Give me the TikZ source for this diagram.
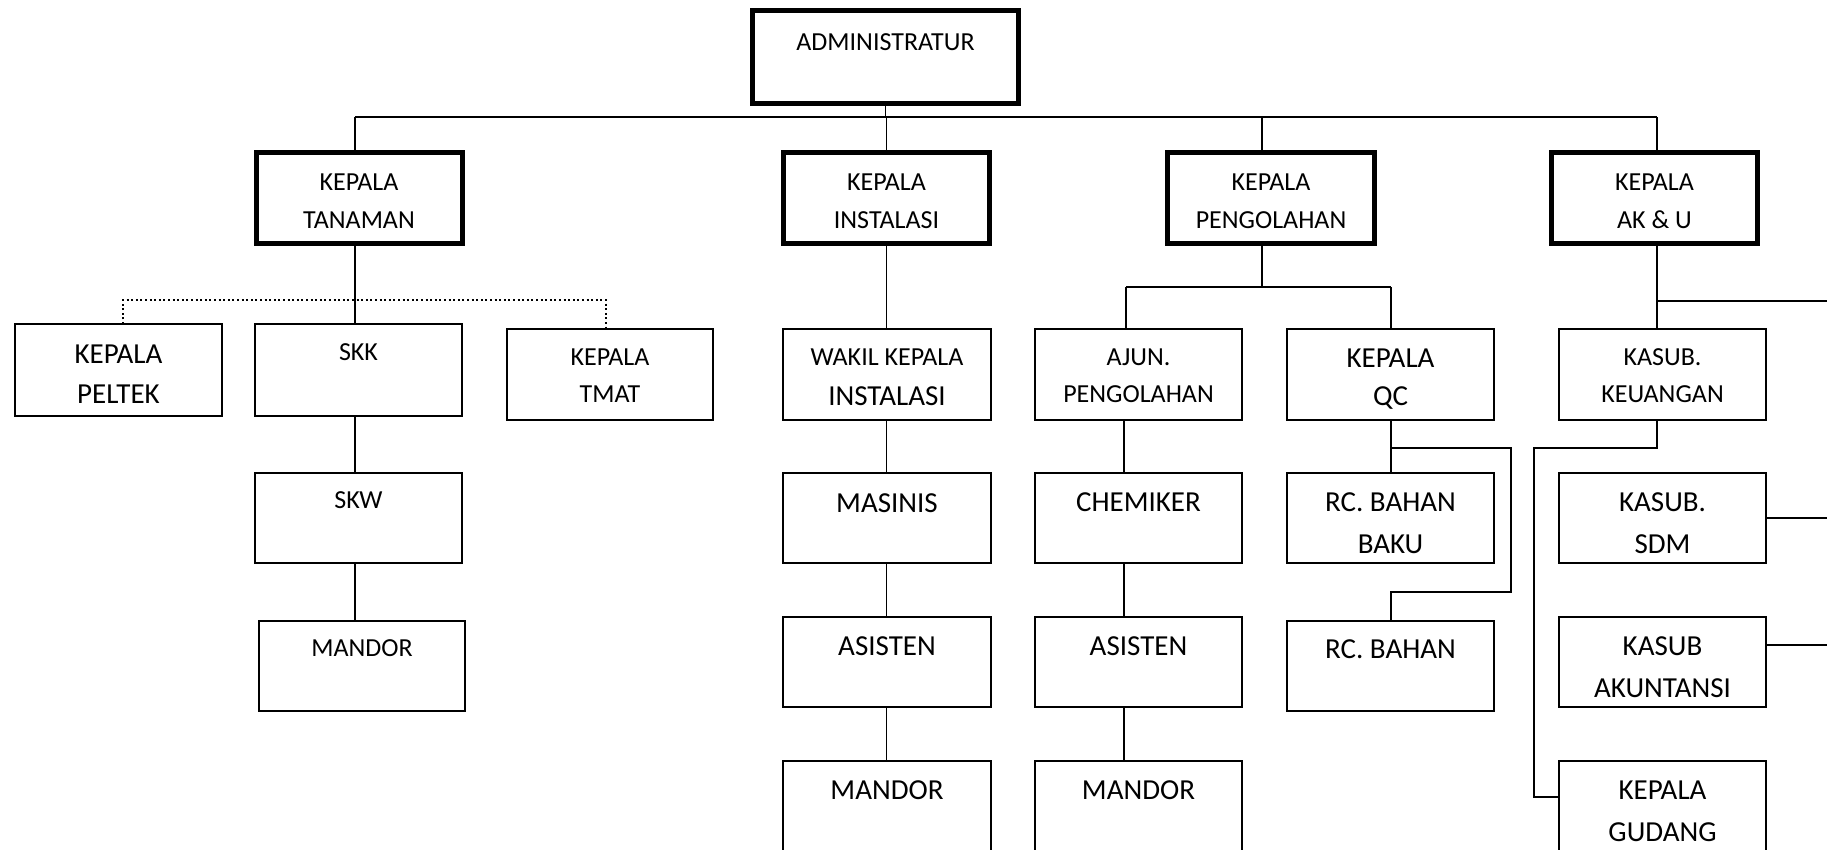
\documentclass[tikz,border=0pt]{standalone}
\usepackage{fontspec}
\setmainfont{Carlito}
\tikzset{
  thinbox/.style={draw, line width=2.5pt, inner sep=0pt, outer sep=0pt, minimum width=207pt, minimum height=91pt},
  thickbox/.style={draw, line width=5pt, inner sep=0pt, outer sep=0pt, minimum width=206pt, minimum height=91pt},
  sm/.style={anchor=base, inner sep=0pt, font=\fontsize{26}{26}\selectfont},
  lg/.style={anchor=base, inner sep=0pt, font=\fontsize{29}{29}\selectfont},
  conn/.style={line width=1.6pt},
  dotline/.style={line width=2pt, dash pattern=on 2pt off 2.6pt}
}
\begin{document}
\begin{tikzpicture}[x=1pt,y=-1pt]
\useasboundingbox (0,0) rectangle (1827,849);
\clip (0,0) rectangle (1827,849);
% thick boxes
\node[thickbox, minimum width=266pt, minimum height=93pt] (adm) at (885.5,57) {};
\node[thickbox] (tan) at (359,198) {};
\node[thickbox] (ins) at (886.5,198) {};
\node[thickbox, minimum width=207pt] (peng) at (1271,198) {};
\node[thickbox] (aku) at (1654.5,198) {};
% row 2
\node[thinbox, minimum height=92pt] (pel) at (118.5,370) {};
\node[thinbox, minimum height=92pt] (skk) at (358.5,370) {};
\node[thinbox, minimum width=206pt] (tmat) at (610,374.5) {};
\node[thinbox, minimum width=208pt] (wak) at (887,374.5) {};
\node[thinbox] (ajun) at (1138.5,374.5) {};
\node[thinbox] (qc) at (1390.5,374.5) {};
\node[thinbox] (keu) at (1662.5,374.5) {};
% row 3
\node[thinbox, minimum height=90pt] (skw) at (358.5,518) {};
\node[thinbox, minimum width=208pt, minimum height=90pt] (mas) at (887,518) {};
\node[thinbox, minimum height=90pt] (chem) at (1138.5,518) {};
\node[thinbox, minimum height=90pt] (rcbb) at (1390.5,518) {};
\node[thinbox, minimum height=90pt] (sdm) at (1662.5,518) {};
% row 4
\node[thinbox, minimum width=206pt, minimum height=90pt] (man1) at (362,666) {};
\node[thinbox, minimum width=208pt, minimum height=90pt] (asi1) at (887,662) {};
\node[thinbox, minimum height=90pt] (asi2) at (1138.5,662) {};
\node[thinbox, minimum height=90pt] (rcb) at (1390.5,666) {};
\node[thinbox, minimum height=90pt] (akun) at (1662.5,662) {};
% row 5
\node[thinbox, minimum width=208pt, minimum height=100pt] (man2) at (887,811) {};
\node[thinbox, minimum height=100pt] (man3) at (1138.5,811) {};
\node[thinbox, minimum height=100pt] (gud) at (1662.5,811) {};
% texts
\node[sm] (t-adm) at (885.5,50) {ADMINISTRATUR};
\node[sm] (t-tan1) at (359,190) {KEPALA};
\node[sm] (t-tan2) at (359,228) {TANAMAN};
\node[sm] (t-ins1) at (886.5,190) {KEPALA};
\node[sm] (t-ins2) at (886.5,228) {INSTALASI};
\node[sm] (t-peng1) at (1271,190) {KEPALA};
\node[sm] (t-peng2) at (1271,228) {PENGOLAHAN};
\node[sm] (t-aku1) at (1654.5,190) {KEPALA};
\node[sm] (t-aku2) at (1654.5,228) {AK \& U};
\node[lg] (t-pel1) at (118.5,363) {KEPALA};
\node[lg] (t-pel2) at (118.5,403) {PELTEK};
\node[sm] (t-skk) at (358.5,360) {SKK};
\node[sm] (t-tmat1) at (610,365) {KEPALA};
\node[sm] (t-tmat2) at (610,402) {TMAT};
\node[sm] (t-wak1) at (887,365) {WAKIL KEPALA};
\node[lg] (t-wak2) at (887,405) {INSTALASI};
\node[sm] (t-ajun1) at (1138.5,365) {AJUN.};
\node[sm] (t-ajun2) at (1138.5,402) {PENGOLAHAN};
\node[lg] (t-qc1) at (1390.5,367) {KEPALA};
\node[lg] (t-qc2) at (1390.5,405) {QC};
\node[sm] (t-keu1) at (1662.5,365) {KASUB.};
\node[sm] (t-keu2) at (1662.5,402) {KEUANGAN};
\node[sm] (t-skw) at (358.5,508) {SKW};
\node[lg] (t-mas) at (887,512) {MASINIS};
\node[lg] (t-chem) at (1138.5,511) {CHEMIKER};
\node[lg] (t-rcbb1) at (1390.5,511) {RC. BAHAN};
\node[lg] (t-rcbb2) at (1390.5,553) {BAKU};
\node[lg] (t-sdm1) at (1662.5,511) {KASUB.};
\node[lg] (t-sdm2) at (1662.5,553) {SDM};
\node[sm] (t-man1) at (362,656) {MANDOR};
\node[lg] (t-asi1) at (887,655) {ASISTEN};
\node[lg] (t-asi2) at (1138.5,655) {ASISTEN};
\node[lg] (t-rcb) at (1390.5,658) {RC. BAHAN};
\node[lg] (t-akun1) at (1662.5,655) {KASUB};
\node[lg] (t-akun2) at (1662.5,697) {AKUNTANSI};
\node[lg] (t-man2) at (887,799) {MANDOR};
\node[lg] (t-man3) at (1138.5,799) {MANDOR};
\node[lg] (t-gud1) at (1662.5,799) {KEPALA};
\node[lg] (t-gud2) at (1662.5,841) {GUDANG};
% coordinates
\coordinate (b1) at (355,117);
\coordinate (b4) at (1657,117);
\coordinate (pengx) at (1262,117);
\coordinate (tx) at (355,0);
\coordinate (d1) at (123,300);
\coordinate (d2) at (606,300);
\coordinate (pb) at (1262,287);
\coordinate (pbL) at (1126,287);
\coordinate (pbR) at (1391,287);
\coordinate (ax) at (1124,0);
\coordinate (q1) at (1391,448);
\coordinate (q2) at (1511,448);
\coordinate (q3) at (1511,592);
\coordinate (q4) at (1391,592);
\coordinate (r1) at (1657,301);
\coordinate (e1) at (1827,301);
\coordinate (k1) at (1657,448);
\coordinate (k2) at (1534,448);
\coordinate (g) at (1534,797);
\coordinate (a1) at (1827,645);
% connectors
\draw[conn] (b1) -- (b4);
\draw[conn] (adm.south) -- (adm.south |- b1);
\draw[conn] (b1) -- (b1 |- tan.north);
\draw[conn] (ins.north) -- (ins.north |- b1);
\draw[conn] (pengx) -- (pengx |- peng.north);
\draw[conn] (b4) -- (b4 |- aku.north);
\draw[conn] (tx |- tan.south) -- (tx |- skk.north);
\draw[conn] (tx |- skk.south) -- (tx |- skw.north);
\draw[conn] (tx |- skw.south) -- (tx |- man1.north);
\draw[dotline] (d1 |- pel.north) -- (d1) -- (d2) -- (d2 |- tmat.north);
\draw[conn] (ins.south) -- (ins.south |- wak.north);
\draw[conn] (ins.south |- wak.south) -- (ins.south |- mas.north);
\draw[conn] (ins.south |- mas.south) -- (ins.south |- asi1.north);
\draw[conn] (ins.south |- asi1.south) -- (ins.south |- man2.north);
\draw[conn] (pengx |- peng.south) -- (pb);
\draw[conn] (pbL) -- (pbR);
\draw[conn] (pbL) -- (pbL |- ajun.north);
\draw[conn] (pbR) -- (pbR |- qc.north);
\draw[conn] (ax |- ajun.south) -- (ax |- chem.north);
\draw[conn] (ax |- chem.south) -- (ax |- asi2.north);
\draw[conn] (ax |- asi2.south) -- (ax |- man3.north);
\draw[conn] (q1 |- qc.south) -- (q1 |- rcbb.north);
\draw[conn] (q1) -- (q2) -- (q3) -- (q4) -- (q4 |- rcb.north);
\draw[conn] (b4 |- aku.south) -- (b4 |- keu.north);
\draw[conn] (r1) -- (e1);
\draw[conn] (k1 |- keu.south) -- (k1) -- (k2) -- (g) -- (gud.west |- g);
\draw[conn] (sdm.east) -- (sdm.east -| e1);
\draw[conn] (akun.east |- a1) -- (a1);
\end{tikzpicture}
\end{document}
